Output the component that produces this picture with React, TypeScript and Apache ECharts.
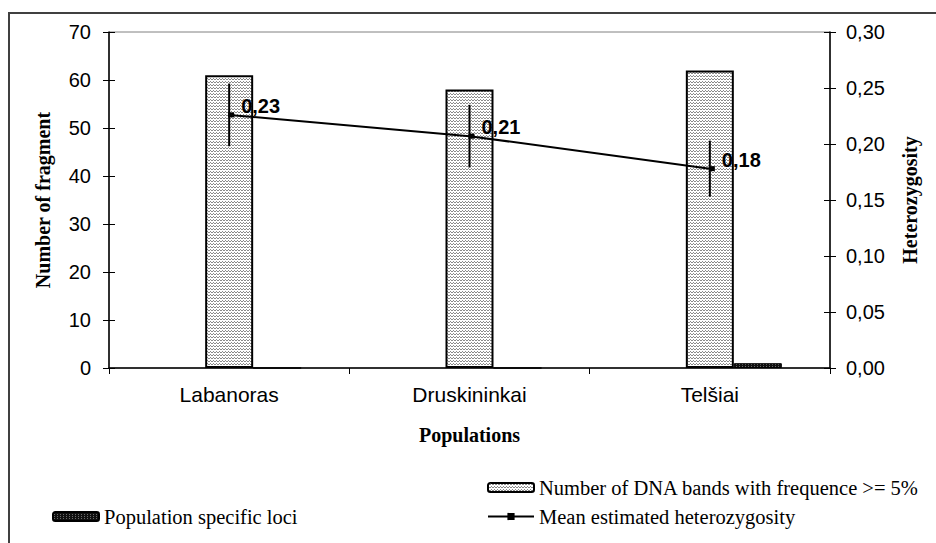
import React, { useEffect, useRef } from "react";
import * as echarts from "echarts";

const categories = ["Labanoras", "Druskininkai", "Telšiai"];
const dnaBands = [61, 58, 62];
const specificLoci = [0, 0, 1];
const heterozygosity = [0.226, 0.207, 0.178];
const heteroError = [0.028, 0.028, 0.025];
const leftAxisRange = [0, 70, 10];
const rightAxisRange = [0, 0.3, 0.05];

const SANS = "Liberation Sans";
const SERIF = "Liberation Serif";

function makePattern(w: number, h: number, bg: string, fg: string, pts: number[][]) {
  const c = document.createElement("canvas");
  c.width = w;
  c.height = h;
  const ctx = c.getContext("2d")!;
  ctx.fillStyle = bg;
  ctx.fillRect(0, 0, w, h);
  ctx.fillStyle = fg;
  pts.forEach(([x, y]) => ctx.fillRect(x, y, 1, 1));
  return c;
}

export default function App() {
  const ref = useRef<HTMLDivElement>(null);
  useEffect(() => {
    if (!ref.current) return;
    const chart = echarts.init(ref.current, null, { renderer: "svg" });
    const bandPattern = makePattern(6, 3, "#ffffff", "#8a8a8a", [
      [0, 0], [3, 0], [1, 1], [2, 1], [4, 1], [5, 1],
    ]);
    const lociPattern = makePattern(3, 2, "#111111", "#6a6a6a", [[1, 0]]);

    const yLabel = { color: "#000", fontSize: 20, fontFamily: SANS };
    const nameStyle = { color: "#000", fontSize: 20, fontWeight: "bold" as const, fontFamily: SERIF };
    const legendText = { color: "#000", fontSize: 20.5, fontFamily: SERIF };
    const legendBase = { itemWidth: 46, itemHeight: 9, padding: 0, textStyle: legendText, selectedMode: false };

    const option: any = {
      animation: false,
      backgroundColor: "#ffffff",
      graphic: [
        {
          type: "rect",
          shape: { x: 9, y: 13, width: 2000, height: 2000 },
          style: { fill: "none", stroke: "#404040", lineWidth: 2 },
          silent: true,
        },
      ],
      grid: {
        left: 109,
        right: 106,
        top: 32,
        bottom: 175,
        show: true,
        borderColor: "#808080",
        borderWidth: 1,
        backgroundColor: "transparent",
      },
      legend: [
        { ...legendBase, data: ["Number of DNA bands with frequence >= 5%"], left: 487, top: 477 },
        { ...legendBase, data: ["Population specific loci"], left: 52, top: 506 },
        { ...legendBase, data: ["Mean estimated heterozygosity"], left: 487, top: 506 },
      ],
      xAxis: {
        type: "category",
        data: categories,
        boundaryGap: true,
        axisLine: { lineStyle: { color: "#000", width: 1.5 } },
        axisTick: { show: true, length: 6, lineStyle: { color: "#000", width: 1 } },
        axisLabel: { color: "#000", fontSize: 21, fontFamily: SANS, margin: 16 },
        name: "Populations",
        nameLocation: "middle",
        nameGap: 57,
        nameTextStyle: nameStyle,
        splitLine: { show: false },
      },
      yAxis: [
        {
          type: "value",
          position: "left",
          min: leftAxisRange[0],
          max: leftAxisRange[1],
          interval: leftAxisRange[2],
          axisLine: { show: true, lineStyle: { color: "#000", width: 1.5 } },
          axisTick: { show: true, length: 6, lineStyle: { color: "#000" } },
          axisLabel: { ...yLabel, margin: 18 },
          splitLine: { show: false },
          name: "Number of fragment",
          nameLocation: "middle",
          nameRotate: 90,
          nameGap: 56,
          nameTextStyle: nameStyle,
        },
        {
          type: "value",
          position: "right",
          min: rightAxisRange[0],
          max: rightAxisRange[1],
          interval: rightAxisRange[2],
          axisLine: { show: true, lineStyle: { color: "#000", width: 1.5 } },
          axisTick: { show: true, length: 6, lineStyle: { color: "#000" } },
          axisLabel: {
            ...yLabel,
            margin: 16,
            formatter: (v: number) => v.toFixed(2).replace(".", ","),
          },
          splitLine: { show: false },
          name: "Heterozygosity",
          nameLocation: "middle",
          nameRotate: 90,
          nameGap: 70,
          nameTextStyle: nameStyle,
        },
        {
          type: "value",
          position: "left",
          min: leftAxisRange[0],
          max: leftAxisRange[1],
          interval: leftAxisRange[2],
          axisLine: { show: false },
          axisTick: { show: true, inside: true, length: 6, lineStyle: { color: "#000" } },
          axisLabel: { show: false },
          splitLine: { show: false },
        },
        {
          type: "value",
          position: "right",
          min: rightAxisRange[0],
          max: rightAxisRange[1],
          interval: rightAxisRange[2],
          axisLine: { show: false },
          axisTick: { show: true, inside: true, length: 6, lineStyle: { color: "#000" } },
          axisLabel: { show: false },
          splitLine: { show: false },
        },
      ],
      series: [
        {
          name: "placeholder",
          type: "bar",
          barWidth: 48,
          barGap: "0%",
          data: categories.map(() => 0),
          itemStyle: { color: "transparent" },
          silent: true,
        },
        {
          name: "Number of DNA bands with frequence >= 5%",
          type: "bar",
          barWidth: 48,
          barGap: "0%",
          data: dnaBands,
          z: 2,
          itemStyle: {
            color: { image: bandPattern, repeat: "repeat" },
            borderColor: "#000",
            borderWidth: 2,
          },
        },
        {
          name: "Population specific loci",
          type: "bar",
          barWidth: 48,
          barGap: "0%",
          data: specificLoci,
          z: 2,
          itemStyle: {
            color: { image: lociPattern, repeat: "repeat" },
            borderColor: "#000",
            borderWidth: 1,
          },
        },
        {
          name: "Mean estimated heterozygosity",
          type: "line",
          yAxisIndex: 1,
          data: heterozygosity,
          z: 10,
          symbol: "rect",
          symbolSize: [6, 5],
          symbolOffset: [2, 0],
          itemStyle: { color: "#000" },
          lineStyle: { color: "#000", width: 2 },
          label: {
            show: true,
            position: "right",
            offset: [2, -9],
            color: "#000",
            fontSize: 20,
            fontWeight: "bold",
            fontFamily: SANS,
            formatter: (p: any) => Number(p.value).toFixed(2).replace(".", ","),
          },
        },
        {
          name: "error",
          type: "custom",
          yAxisIndex: 1,
          z: 9,
          silent: true,
          data: categories.map((_, i) => [
            i,
            heterozygosity[i] - heteroError[i],
            heterozygosity[i] + heteroError[i],
          ]),
          encode: { x: 0, y: [1, 2] },
          renderItem: (_params: any, api: any) => {
            const lo = api.coord([api.value(0), api.value(1)]);
            const hi = api.coord([api.value(0), api.value(2)]);
            return {
              type: "line",
              shape: { x1: lo[0], y1: lo[1], x2: hi[0], y2: hi[1] },
              style: { stroke: "#000", lineWidth: 2 },
            };
          },
        },
      ],
    };
    chart.setOption(option);
    return () => chart.dispose();
  }, []);
  return (
    <div
      ref={ref}
      style={{ position: "fixed", left: 0, top: 0, width: 936, height: 543, background: "#fff" }}
    />
  );
}
